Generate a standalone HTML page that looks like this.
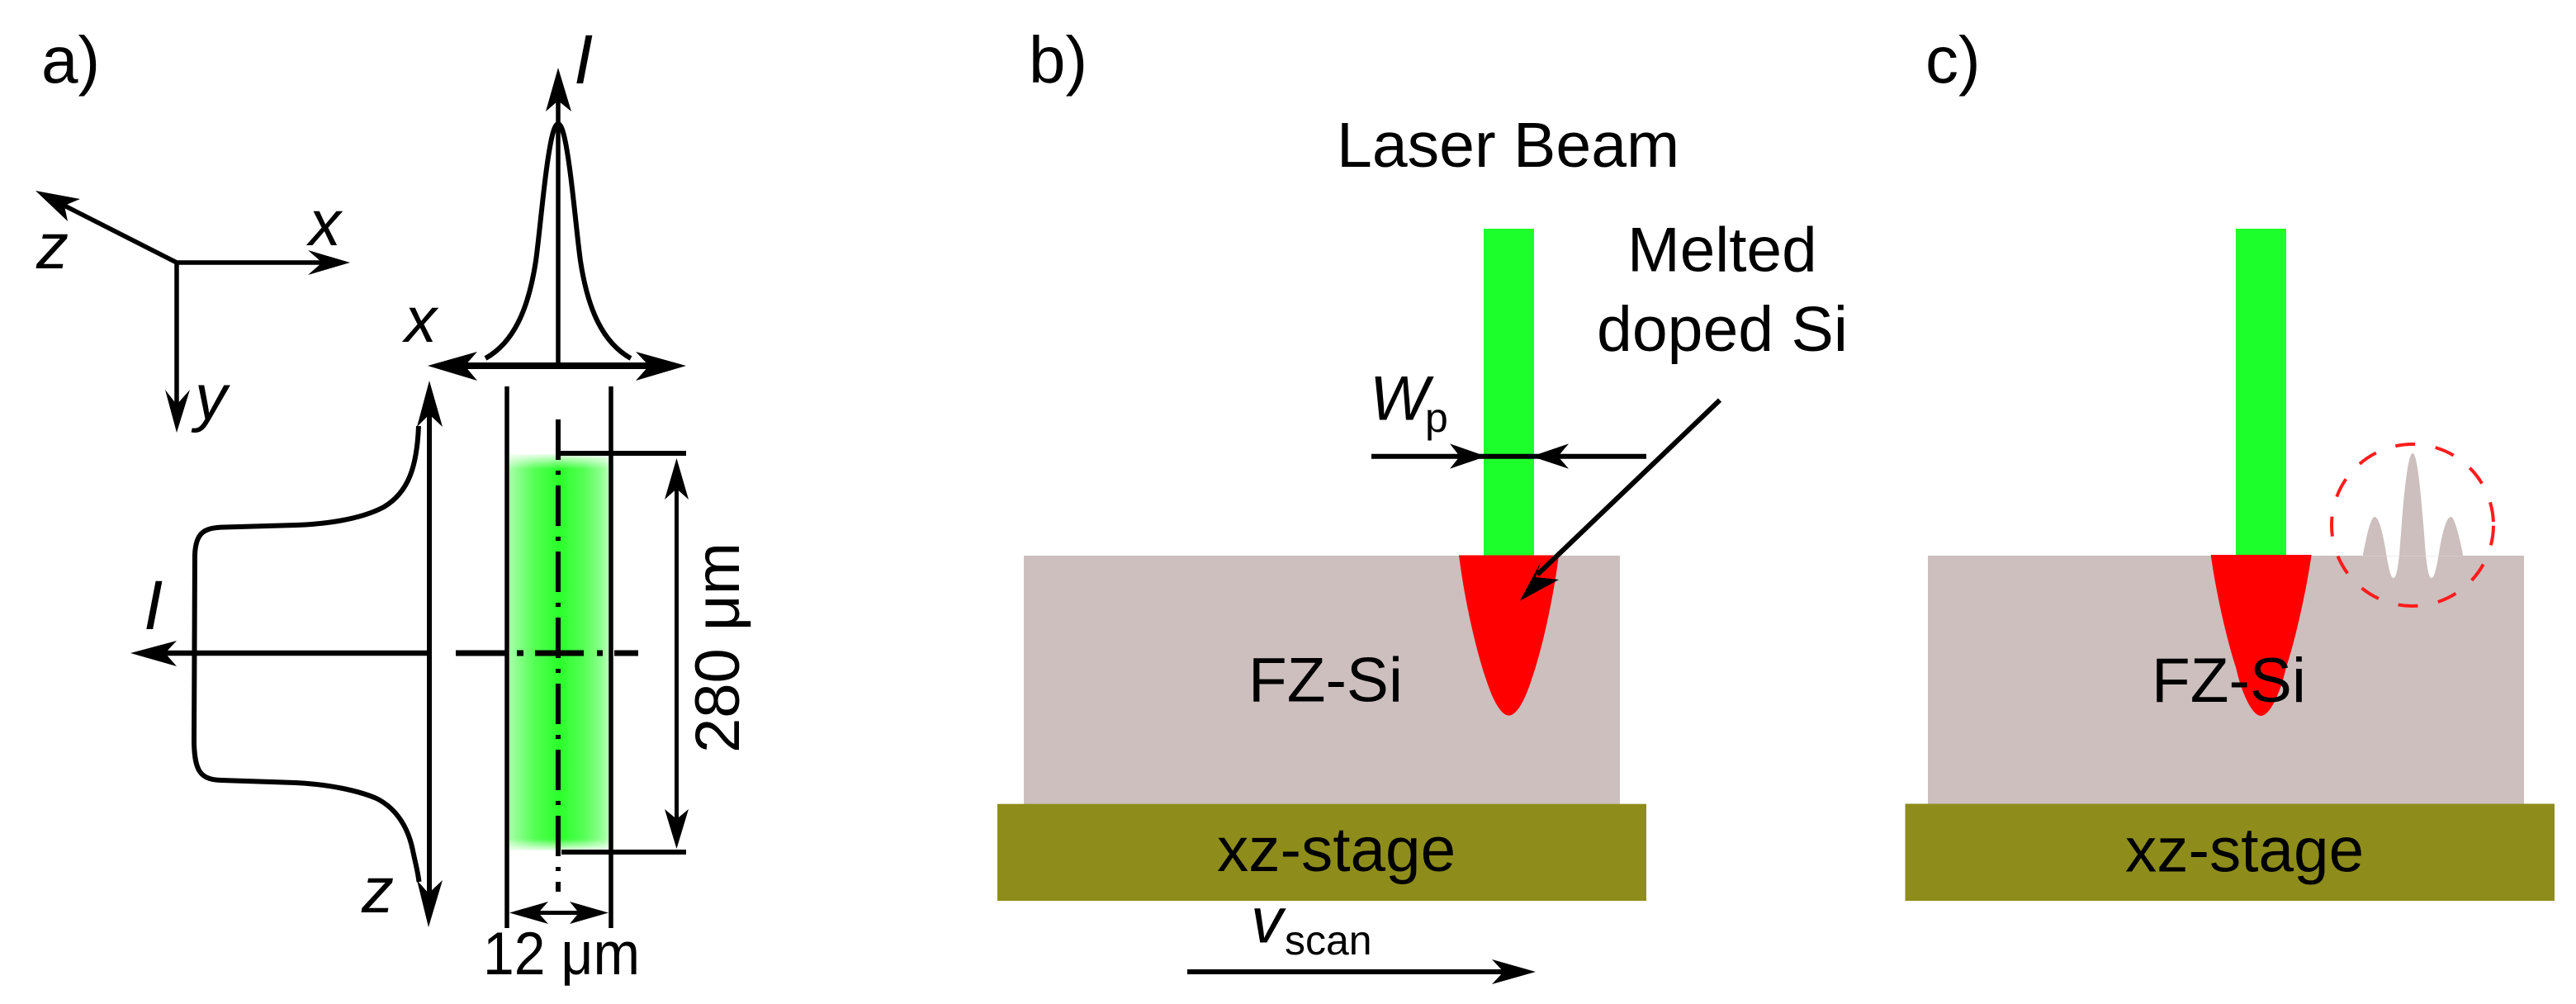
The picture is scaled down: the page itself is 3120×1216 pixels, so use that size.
<!DOCTYPE html>
<html lang="en">
<head>
<meta charset="utf-8">
<title>Laser doping diagram</title>
<style>
html,body{margin:0;padding:0;background:#fff;}
svg{display:block;}
text{font-family:"Liberation Sans",Arial,sans-serif;fill:#000;}
.i{font-style:italic;}
</style>
</head>
<body>
<svg xmlns="http://www.w3.org/2000/svg" width="3120" height="1216" viewBox="0 0 3120 1216">
<defs>
<linearGradient id="gh" x1="0" x2="1" y1="0" y2="0">
<stop offset="0" stop-color="#aaffaa"/>
<stop offset=".08" stop-color="#8cff8c"/>
<stop offset=".25" stop-color="#55ff55"/>
<stop offset=".5" stop-color="#2aff2a"/>
<stop offset=".75" stop-color="#55ff55"/>
<stop offset=".92" stop-color="#8cff8c"/>
<stop offset="1" stop-color="#b8ffb8"/>
</linearGradient>
<linearGradient id="ft" x1="0" x2="0" y1="0" y2="1">
<stop offset="0" stop-color="#fff" stop-opacity="1"/>
<stop offset="1" stop-color="#fff" stop-opacity="0"/>
</linearGradient>
<linearGradient id="fb" x1="0" x2="0" y1="0" y2="1">
<stop offset="0" stop-color="#fff" stop-opacity="0"/>
<stop offset="1" stop-color="#fff" stop-opacity="1"/>
</linearGradient>
<clipPath id="above"><rect x="2850" y="500" width="150" height="173.3"/></clipPath>
</defs>

<!-- PANEL A -->
<text x="50" y="100" font-size="80">a)</text>

<!-- coordinate axes -->
<g stroke="#000" fill="none">
<line x1="214" y1="318" x2="392" y2="318" stroke-width="5.5"/>
<line x1="214" y1="318" x2="76" y2="248" stroke-width="5.5"/>
<line x1="214" y1="316" x2="214" y2="495" stroke-width="5.5"/>
</g>
<polygon points="424,318 373,303 390,318 373,333"/>
<polygon points="43,231 97,241 78,249 82,268"/>
<polygon points="214,524 200,472 214,490 230,472"/>
<text class="i" x="374" y="297" font-size="78">x</text>
<text class="i" x="44" y="325" font-size="78">z</text>
<text class="i" x="236" y="508" font-size="78">y</text>

<!-- top profile -->
<line x1="676" y1="118" x2="676" y2="443" stroke="#000" stroke-width="5.5"/>
<polygon points="676,82 661,135 676,122 692,135"/>
<text class="i" x="695" y="101" font-size="84">I</text>
<path d="M588 434 C622 415 640 375 649 316 C654 280 660 205 668 168 Q672 150 676 150 Q680 150 684 168 C692 205 698 280 703 316 C712 375 730 415 764 434" fill="none" stroke="#000" stroke-width="6"/>
<line x1="560" y1="443" x2="790" y2="443" stroke="#000" stroke-width="8"/>
<polygon points="518,443 578,426 563,443 578,461"/>
<polygon points="831,443 770,426 786,443 770,461"/>
<text class="i" x="490" y="414" font-size="78">x</text>

<!-- green spot -->
<rect x="617" y="550" width="120" height="480" fill="url(#gh)"/>
<rect x="615" y="548" width="124" height="20" fill="url(#ft)"/>
<rect x="615" y="1016" width="124" height="16" fill="url(#fb)"/>

<!-- beam limit lines -->
<line x1="614" y1="468" x2="614" y2="1124" stroke="#000" stroke-width="5.5"/>
<line x1="740" y1="468" x2="740" y2="1124" stroke="#000" stroke-width="5.5"/>

<!-- centre lines -->
<line x1="676" y1="508" x2="676" y2="1080" stroke="#000" stroke-width="6" stroke-dasharray="49 13 5 13"/>
<g stroke="#000" stroke-width="7">
<line x1="552" y1="791" x2="614" y2="791"/>
<line x1="626" y1="791" x2="634" y2="791"/>
<line x1="648" y1="791" x2="707" y2="791"/>
<line x1="723" y1="791" x2="730" y2="791"/>
<line x1="744" y1="791" x2="773" y2="791"/>
</g>

<!-- left profile -->
<line x1="520" y1="500" x2="520" y2="1090" stroke="#000" stroke-width="6"/>
<polygon points="520,461 505,517 520,502 536,517"/>
<polygon points="519,1123 505,1066 519,1082 536,1066"/>
<line x1="195" y1="791" x2="520" y2="791" stroke="#000" stroke-width="6.5"/>
<polygon points="158,791 214,776 200,791 214,807"/>
<text class="i" x="174" y="762" font-size="84">I</text>
<text class="i" x="438" y="1105" font-size="78">z</text>
<path d="M507 516 C505 565 495 596 465 614 C435 630 390 635 358 636 L272 638.5 C248 639 237 644 236 672 L235 900 C236 935 243 944 268 945 L358 948 C400 950 435 958 456 967 C482 980 495 1005 500 1030 C503 1045 506 1055 507.5 1068" fill="none" stroke="#000" stroke-width="6"/>

<!-- 280 um dimension -->
<line x1="679" y1="549" x2="831" y2="549" stroke="#000" stroke-width="6"/>
<line x1="680" y1="1032" x2="831" y2="1032" stroke="#000" stroke-width="6"/>
<line x1="819.5" y1="590" x2="819.5" y2="995" stroke="#000" stroke-width="5"/>
<polygon points="819.5,555 805,605 819.5,592 834,605"/>
<polygon points="819.5,1028 805,980 819.5,992 834,980"/>
<text x="895" y="912" font-size="76" transform="rotate(-90 895 912)">280 μm</text>

<!-- 12 um dimension -->
<line x1="650" y1="1105.5" x2="703" y2="1105.5" stroke="#000" stroke-width="5"/>
<polygon points="617,1105.5 664,1092 652,1105.5 664,1119"/>
<polygon points="737,1105.5 690,1092 701,1105.5 690,1119"/>
<text x="585" y="1180" font-size="73" textLength="190" lengthAdjust="spacingAndGlyphs">12 μm</text>

<!-- PANEL B -->
<text x="1246" y="100" font-size="80">b)</text>
<text x="1619" y="202" font-size="77">Laser Beam</text>
<rect x="1797" y="277" width="61" height="397" fill="#1cff2a"/>
<rect x="1240" y="673" width="722" height="301" fill="#ccbfbe"/>
<rect x="1208" y="973.7" width="786" height="117.3" fill="#8e8d1c"/>
<path d="M1767 672.5 C1775 735 1790 795 1800 823 C1808 848 1818 866.6 1827.5 866.6 C1837 866.6 1847 848 1855 823 C1865 795 1880 735 1888 672.5 Z" fill="#f00"/>
<text x="1971" y="328.5" font-size="76.5">Melted</text>
<text x="1934" y="425" font-size="77">doped Si</text>
<text x="1512" y="849.5" font-size="76.5">FZ-Si</text>
<text x="1474" y="1055" font-size="76.5">xz-stage</text>

<!-- Wp arrows -->
<line x1="1661" y1="552.7" x2="1994" y2="552.7" stroke="#000" stroke-width="6"/>
<polygon points="1800,552.7 1756,537.4 1768,552.7 1756,567.7"/>
<polygon points="1855,552.7 1900,537.4 1887,552.7 1900,567.7"/>
<text class="i" x="1659" y="508.5" font-size="76">W</text>
<text x="1726" y="523" font-size="50">p</text>

<!-- melted arrow -->
<line x1="2083" y1="484.6" x2="1862" y2="696" stroke="#000" stroke-width="6"/>
<polygon points="1841,727.6 1866,680.7 1860,699 1888,702"/>

<!-- v scan -->
<text class="i" x="1515" y="1141.5" font-size="78">v</text>
<text x="1556" y="1156" font-size="50">scan</text>
<line x1="1438" y1="1177" x2="1825" y2="1177" stroke="#000" stroke-width="6"/>
<polygon points="1860,1177 1807,1162 1821,1177 1807,1192"/>

<!-- PANEL C -->
<text x="2332" y="100" font-size="80">c)</text>
<rect x="2708" y="277" width="61" height="397" fill="#1cff2a"/>
<rect x="2335" y="673" width="722" height="301" fill="#ccbfbe"/>
<rect x="2307.5" y="973.5" width="786.5" height="117.5" fill="#8e8d1c"/>
<path d="M2677.7 672 C2685 725 2700 785 2708 808 C2715 840 2728 867 2738.5 867 C2749 867 2762 840 2769 808 C2777 785 2792 725 2799.6 672 Z" fill="#f00"/>
<text x="2606" y="850" font-size="76.5">FZ-Si</text>
<text x="2574" y="1055.5" font-size="76.5">xz-stage</text>

<!-- ripple -->
<path d="M2861.7 673.3 C2865 655 2871 626 2876 626 C2882 626 2887 650 2891 676 C2894 692 2896 700 2899 700 C2902 700 2904 690 2906 672 C2910 620 2915 549 2922.3 549 C2929 549 2934 620 2938 672 C2940 690 2942 700 2945 700 C2948 700 2950 692 2953 676 C2957 650 2962 626 2968.7 626 C2973 626 2980 655 2983.3 673.3 Z" fill="#fff"/>
<path clip-path="url(#above)" d="M2861.7 673.3 C2865 655 2871 626 2876 626 C2882 626 2887 650 2891 676 C2894 692 2896 700 2899 700 C2902 700 2904 690 2906 672 C2910 620 2915 549 2922.3 549 C2929 549 2934 620 2938 672 C2940 690 2942 700 2945 700 C2948 700 2950 692 2953 676 C2957 650 2962 626 2968.7 626 C2973 626 2980 655 2983.3 673.3 Z" fill="#ccbfbe"/>
<circle cx="2922" cy="636" r="98" fill="none" stroke="#ff1c1c" stroke-width="4" stroke-dasharray="24 24.9" transform="rotate(0.4 2922 636)"/>
</svg>
</body>
</html>
